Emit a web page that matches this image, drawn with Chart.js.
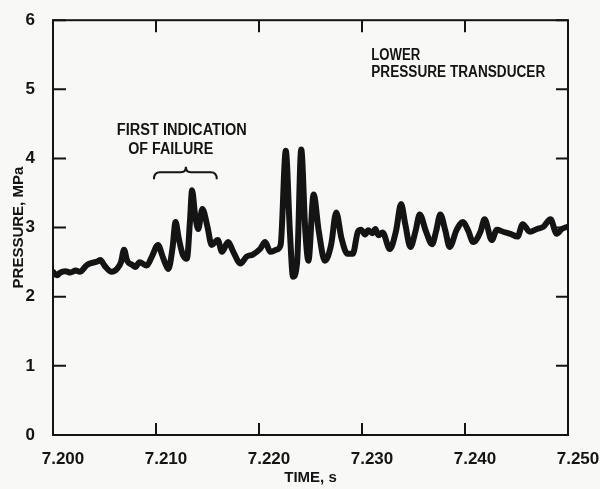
<!DOCTYPE html>
<html>
<head>
<meta charset="utf-8">
<title>Lower pressure transducer</title>
<script src="https://cdn.jsdelivr.net/npm/chart.js@4"></script>
<style>
  html, body { margin: 0; padding: 0; background: #f8f8f6; }
  canvas { display: block; }
</style>
</head>
<body>
<canvas id="chartCanvas" width="600" height="489"></canvas>
<script>
// Pressure trace, lower transducer (time in s, pressure in MPa)
const timeS = [
  7.2000, 7.2004, 7.2007, 7.2012, 7.2017, 7.2022, 7.2026, 7.2033, 7.2038, 7.2043,
  7.2046, 7.2050, 7.2057, 7.2062, 7.2066, 7.2069, 7.2072, 7.2077, 7.2080, 7.2084,
  7.2091, 7.2096, 7.2102, 7.2106, 7.2109, 7.2112, 7.2116, 7.2119, 7.2122, 7.2126,
  7.2130, 7.2133, 7.2135, 7.2138, 7.2141, 7.2145, 7.2150, 7.2154, 7.2160, 7.2164,
  7.2170, 7.2175, 7.2182, 7.2188, 7.2194, 7.2201, 7.2206, 7.2211, 7.2217, 7.2221,
  7.2226, 7.2230, 7.2233, 7.2237, 7.2241, 7.2245, 7.2248, 7.2253, 7.2258, 7.2264,
  7.2270, 7.2275, 7.2280, 7.2286, 7.2291, 7.2296, 7.2299, 7.2303, 7.2306, 7.2310,
  7.2313, 7.2316, 7.2320, 7.2327, 7.2333, 7.2338, 7.2342, 7.2347, 7.2352, 7.2356,
  7.2362, 7.2368, 7.2372, 7.2376, 7.2381, 7.2385, 7.2392, 7.2398, 7.2403, 7.2408,
  7.2415, 7.2419, 7.2426, 7.2431, 7.2437, 7.2444, 7.2451, 7.2456, 7.2463, 7.2470,
  7.2476, 7.2483, 7.2489, 7.2494, 7.2499
];
const pressureMPa = [
  2.36, 2.31, 2.35, 2.37, 2.35, 2.38, 2.36, 2.46, 2.49, 2.51,
  2.53, 2.45, 2.36, 2.40, 2.50, 2.68, 2.52, 2.46, 2.43, 2.50,
  2.45, 2.58, 2.75, 2.60, 2.48, 2.40, 2.70, 3.08, 2.85, 2.61,
  2.55, 3.10, 3.54, 3.18, 2.98, 3.27, 3.01, 2.75, 2.82, 2.65,
  2.79, 2.65, 2.48, 2.58, 2.61, 2.69, 2.79, 2.65, 2.68, 2.75,
  4.11, 2.94, 2.29, 2.50, 4.13, 2.94, 2.52, 3.48, 2.95, 2.52,
  2.75, 3.22, 2.85, 2.62, 2.62, 2.94, 2.97, 2.90, 2.96, 2.92,
  2.98, 2.89, 2.93, 2.69, 2.95, 3.34, 3.05, 2.72, 2.95, 3.19,
  2.95, 2.76, 2.95, 3.19, 2.95, 2.72, 2.97, 3.08, 2.96, 2.79,
  2.94, 3.12, 2.82, 2.97, 2.94, 2.91, 2.87, 3.05, 2.94, 2.98,
  3.01, 3.12, 2.91, 2.98, 3.01
];
const xTicks = [7.200, 7.210, 7.220, 7.230, 7.240, 7.250];
const yTicks = [0, 1, 2, 3, 4, 5, 6];

const ink = "#141414";
const labelFont = { family: "'Liberation Sans', Arial, sans-serif", size: 17, weight: "bold" };
const titleFont = { family: "'Liberation Sans', Arial, sans-serif", size: 15, weight: "bold" };

// Box frame with inward ticks on all four sides, plus the text notes and brace
const framePlugin = {
  id: "frame",
  beforeDatasetsDraw(chart) {
    const { ctx, chartArea: a, scales: { x, y } } = chart;
    ctx.save();
    ctx.strokeStyle = ink;
    ctx.lineWidth = 2;
    ctx.strokeRect(a.left, a.top, a.right - a.left, a.bottom - a.top);
    ctx.beginPath();
    xTicks.forEach(v => {
      const px = x.getPixelForValue(v);
      ctx.moveTo(px, a.bottom); ctx.lineTo(px, a.bottom - 12);
      ctx.moveTo(px, a.top); ctx.lineTo(px, a.top + 12);
    });
    yTicks.forEach(v => {
      const py = y.getPixelForValue(v);
      ctx.moveTo(a.left, py); ctx.lineTo(a.left + 13, py);
      ctx.moveTo(a.right, py); ctx.lineTo(a.right - 12, py);
    });
    ctx.stroke();
    ctx.restore();
  },
  afterDraw(chart) {
    const { ctx, scales: { x, y } } = chart;
    ctx.save();
    ctx.fillStyle = ink;
    ctx.font = "bold 16px 'Liberation Sans', Arial, sans-serif";
    ctx.textBaseline = "middle";
    ctx.textAlign = "left";
    const note = (text, t, p, w) => ctx.fillText(text, x.getPixelForValue(t), y.getPixelForValue(p), w);
    note("FIRST INDICATION", 7.2062, 4.41, 130);
    note("OF FAILURE", 7.2073, 4.13, 85);
    note("LOWER", 7.2309, 5.49, 49);
    note("PRESSURE TRANSDUCER", 7.2309, 5.24, 174);

    // curly brace over the first oscillations
    const x0 = x.getPixelForValue(7.2098), x1 = x.getPixelForValue(7.2159);
    const xm = x.getPixelForValue(7.2129);
    const yb = y.getPixelForValue(3.70), yt = y.getPixelForValue(3.80), yc = y.getPixelForValue(3.88);
    ctx.strokeStyle = ink;
    ctx.lineWidth = 2;
    ctx.beginPath();
    ctx.moveTo(x0, yb);
    ctx.quadraticCurveTo(x0, yt, x0 + 6, yt);
    ctx.lineTo(xm - 5, yt);
    ctx.quadraticCurveTo(xm, yt, xm, yc);
    ctx.quadraticCurveTo(xm, yt, xm + 5, yt);
    ctx.lineTo(x1 - 6, yt);
    ctx.quadraticCurveTo(x1, yt, x1, yb);
    ctx.stroke();
    ctx.restore();
  }
};

const canvas = document.getElementById("chartCanvas");
const chart = new Chart(canvas.getContext("2d"), {
  type: "line",
  data: {
    datasets: [{
      data: timeS.map((t, i) => ({ x: t, y: pressureMPa[i] })),
      borderColor: ink,
      borderWidth: 6,
      borderJoinStyle: "round",
      borderCapStyle: "round",
      cubicInterpolationMode: "monotone",
      pointRadius: 0,
      fill: false
    }]
  },
  options: {
    responsive: false,
    animation: false,
    layout: { padding: { left: 0, top: 16, right: 32, bottom: 0 } },
    plugins: { legend: { display: false }, tooltip: { enabled: false } },
    scales: {
      x: {
        type: "linear",
        min: 7.2, max: 7.25,
        afterBuildTicks: s => { s.ticks = xTicks.map(v => ({ value: v })); },
        afterFit: s => { s.height = 54; },
        grid: { display: false },
        border: { display: false },
        ticks: {
          color: ink, font: labelFont, padding: 6, labelOffset: 10,
          maxRotation: 0, autoSkip: false,
          callback: v => v.toFixed(3)
        },
        title: { display: true, text: "TIME, s", color: ink, font: titleFont, padding: { top: 0, bottom: 2 } }
      },
      y: {
        min: 0, max: 6,
        afterBuildTicks: s => { s.ticks = yTicks.map(v => ({ value: v })); },
        afterFit: s => { s.width = 53; },
        grid: { display: false },
        border: { display: false },
        ticks: { color: ink, font: labelFont, padding: 10, callback: v => String(v) },
        title: { display: true, text: "PRESSURE, MPa", color: ink, font: titleFont, padding: { top: 10, bottom: 0 } }
      }
    }
  },
  plugins: [framePlugin]
});
</script>
</body>
</html>
